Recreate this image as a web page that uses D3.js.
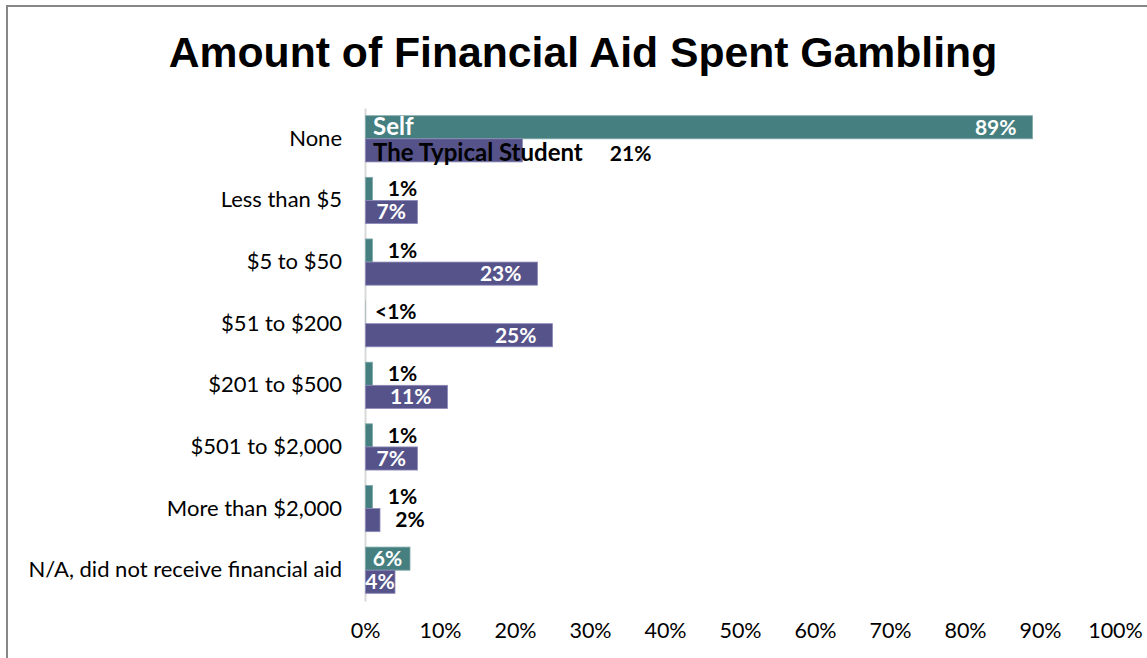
<!DOCTYPE html>
<html>
<head>
<meta charset="utf-8">
<script src="https://cdn.jsdelivr.net/npm/d3@7/dist/d3.min.js"></script>
<style>
  html, body { margin: 0; padding: 0; background: #fff; }
  svg { display: block; }
</style>
</head>
<body>
<svg id="chart" width="1147" height="658"></svg>
<script>
// Survey answers: how much of their financial aid respondents spent gambling
const categories = [
  "None",
  "Less than $5",
  "$5 to $50",
  "$51 to $200",
  "$201 to $500",
  "$501 to $2,000",
  "More than $2,000",
  "N/A, did not receive financial aid"
];
const seriesNames = ["Self", "The Typical Student"];
const selfValues    = [89, 1, 1, 0.1, 1, 1, 1, 6];
const typicalValues = [21, 7, 23, 25, 11, 7, 2, 4];
const selfLabels    = ["89%", "1%", "1%", "<1%", "1%", "1%", "1%", "6%"];
const typicalLabels = ["21%", "7%", "23%", "25%", "11%", "7%", "2%", "4%"];
const tickValues = [0, 10, 20, 30, 40, 50, 60, 70, 80, 90, 100];

const colors = ["#467f80", "#56538a"];
const strokes = ["#7fa9a9", "#8c89b8"];
const labelFont = "Lato, 'Noto Sans', sans-serif";

const svg = d3.select("#chart");
const W = 1147, H = 658;

// outer frame of the chart area
svg.append("rect")
  .attr("x", 7).attr("y", 6)
  .attr("width", W + 20).attr("height", H + 20)
  .attr("fill", "#fff").attr("stroke", "#878787").attr("stroke-width", 2);

svg.append("text")
  .attr("x", 583).attr("y", 67)
  .attr("text-anchor", "middle")
  .attr("font-family", "'Liberation Sans', Arial, sans-serif")
  .attr("font-weight", "bold")
  .attr("font-size", 42.7)
  .attr("fill", "#000")
  .text("Amount of Financial Aid Spent Gambling");

const x = d3.scaleLinear().domain([0, 100]).range([365, 1115]);
const y = d3.scaleBand().domain(categories).range([108, 601])
  .paddingInner(0.25).paddingOuter(0.125);
const ySeries = d3.scaleBand().domain([0, 1]).range([0, y.bandwidth()]);

// category axis
const yAxis = svg.append("g")
  .attr("transform", `translate(${x(0)},0)`)
  .call(d3.axisLeft(y).tickSize(0).tickPadding(23));
yAxis.select(".domain").attr("stroke", "#d9d9d9").attr("stroke-width", 2);
yAxis.selectAll("text")
  .attr("font-family", labelFont).attr("font-size", 22).attr("fill", "#000");

// value axis, labels only
const xAxis = svg.append("g")
  .attr("transform", "translate(0,617)")
  .call(d3.axisBottom(x).tickValues(tickValues).tickSize(0).tickPadding(6)
    .tickFormat(d => d + "%"));
xAxis.select(".domain").remove();
xAxis.selectAll("text")
  .attr("font-family", labelFont).attr("font-size", 21.5).attr("fill", "#000");

const rows = categories.map((c, i) => ({
  cat: c, i,
  vals: [selfValues[i], typicalValues[i]],
  labels: [selfLabels[i], typicalLabels[i]]
}));

const bars = [];
rows.forEach(r => r.vals.forEach((v, s) => bars.push({ cat: r.cat, i: r.i, s, v, label: r.labels[s] })));

svg.append("g").selectAll("rect")
  .data(bars).join("rect")
  .attr("x", x(0) + 0.5)
  .attr("y", d => y(d.cat) + ySeries(d.s))
  .attr("width", d => Math.max(0, x(d.v) - x(0) - 0.5))
  .attr("height", ySeries.bandwidth())
  .attr("fill", d => colors[d.s])
  .attr("stroke", d => d.v >= 1 ? strokes[d.s] : "none")
  .attr("stroke-width", 0.8);

// value labels: inside the bar end when the bar is wide, outside otherwise
const lbl = svg.append("g")
  .attr("font-family", labelFont).attr("font-weight", "bold").attr("font-size", 21);

bars.forEach(d => {
  const cy = y(d.cat) + ySeries(d.s) + ySeries.bandwidth() / 2;
  const end = x(d.v);
  if (d.i === 0) {
    // first row carries the series names
    const nameColor = d.s === 0 ? "#fff" : "#000";
    const name = lbl.append("text")
      .attr("x", x(0) + 8).attr("y", d.s === 0 ? cy - 1 : cy + 2).attr("dy", "0.35em")
      .attr("font-size", 24)
      .attr("fill", nameColor).text(seriesNames[d.s]);
    if (d.s === 0) {
      lbl.append("text").attr("x", end - 16).attr("y", cy).attr("dy", "0.35em")
        .attr("text-anchor", "end").attr("fill", "#fff").text(d.label);
    } else {
      const nameEnd = x(0) + 8 + name.node().getComputedTextLength();
      lbl.append("text").attr("x", nameEnd + 27).attr("y", cy + 3).attr("dy", "0.35em")
        .attr("fill", "#000").text(d.label);
    }
    return;
  }
  const t = lbl.append("text").attr("y", cy).attr("dy", "0.35em").text(d.label);
  const w = t.node().getComputedTextLength();
  if (d.v >= 4) {
    const slack = (end - x(0)) - w;
    const pad = Math.min(16, Math.max(0, slack / 2));
    t.attr("x", end - pad).attr("text-anchor", "end").attr("fill", "#fff");
  } else {
    t.attr("x", end + 30).attr("text-anchor", "middle").attr("fill", "#000");
  }
});
</script>
</body>
</html>
